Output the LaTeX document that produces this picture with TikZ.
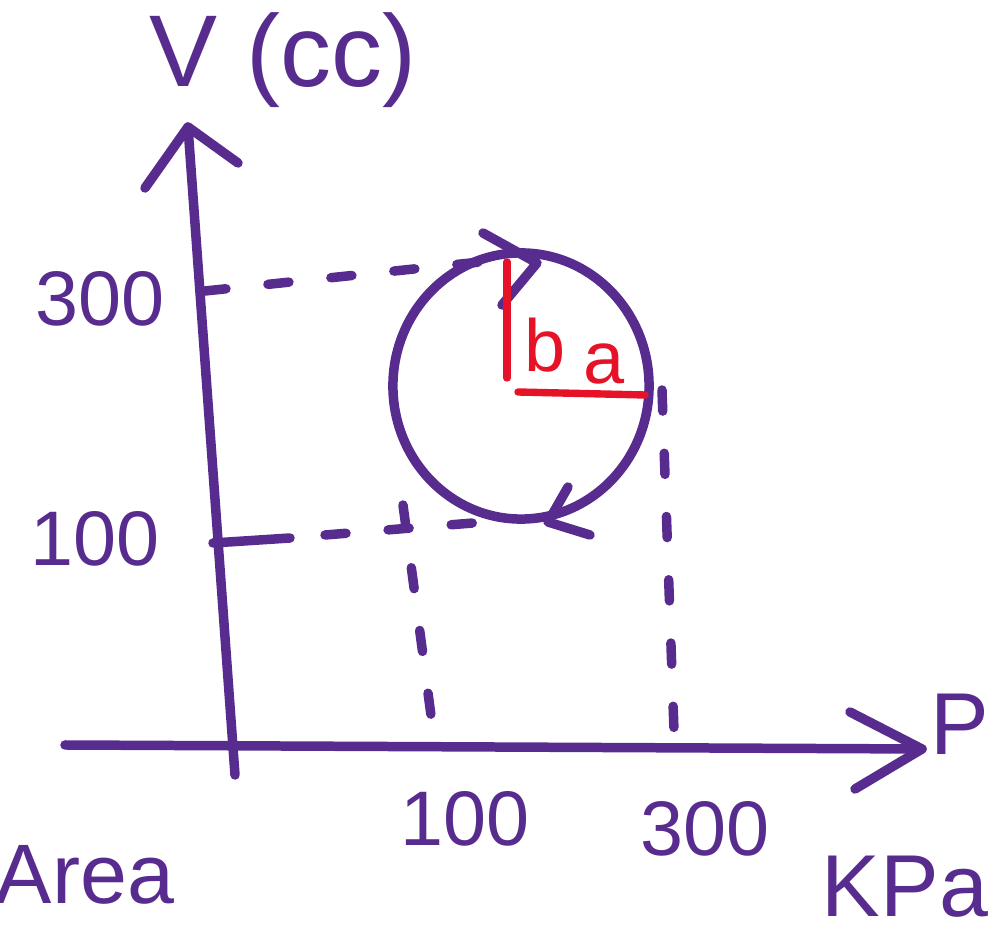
\documentclass[tikz,border=0pt]{standalone}
\usepackage{fontspec}
\setmainfont{Liberation Sans}
\usepackage{tikz}
\usetikzlibrary{calc}
\definecolor{ink}{RGB}{88,44,142}
\definecolor{redink}{RGB}{230,18,40}

\begin{document}
\begin{tikzpicture}[x=0.01cm, y=0.01cm,
    pen/.style={ink, line width=2.7pt, line cap=round, line join=round},
    redpen/.style={redink, line width=2.1pt, line cap=round},
    guide/.style={pen, dash pattern=on 6pt off 12pt},
    lbl/.style={ink, inner sep=0pt, font=\fontsize{22}{24}\selectfont}]
  \useasboundingbox (0,0) rectangle (996,939);
  % Axes
  \coordinate (Vbot) at (235,164);
  \coordinate (Vtop) at (188,812);
  \draw[pen] (Vbot) -- (Vtop);
  \draw[pen] (145,751) -- (Vtop) -- (238,776);
  \coordinate (Pleft) at (65,194);
  \coordinate (Ptip) at (922,190);
  \draw[pen] (Pleft) -- (Ptip);
  \draw[pen] (850,227) -- (Ptip) -- (855,150);
  \node[lbl, font=\fontsize{29}{32}\selectfont] (vlabel) at (283,879) {V (cc)};
  \node[lbl, font=\fontsize{25}{28}\selectfont] (plabel) at (960,215) {P};
  \node[lbl, font=\fontsize{25}{28}\selectfont] (unit) at (905,52) {KPa};
  % Ticks
  \node[lbl] (v300) at (100,640) {300};
  \node[lbl] (v100) at (95,400) {100};
  \node[lbl] (p100) at (465,120) {100};
  \node[lbl] (p300) at (705,110) {300};
  \node[lbl, font=\fontsize{24}{26}\selectfont] (area) at (85,64) {Area};
  % Cycle
  \coordinate (c) at (521,553);
  \draw[pen] (c) ellipse [x radius=1.28cm, y radius=1.33cm];
  \draw[pen] (483,706) -- (537,676) -- (502,634);
  \draw[pen] (568,452) -- (548,417) -- (590,404);
  % Dashed guides
  \draw[guide] (205,648) -- (480,677);
  \draw[pen] (213,396) -- (290,401);
  \draw[guide] (325,404) -- (510,419);
  \draw[guide] (403,434) -- (432,216);
  \draw[guide] (662,549) -- (675,180);
  % Semi-axes
  \draw[redpen] (507,677) -- (507,561);
  \draw[redpen] (518,547) -- (645,544);
  \node[redink, inner sep=0pt, font=\fontsize{21}{24}\selectfont] (b) at (545,594) {b};
  \node[redink, inner sep=0pt, font=\fontsize{21}{24}\selectfont] (a) at (604,575) {a};
\end{tikzpicture}
\end{document}
